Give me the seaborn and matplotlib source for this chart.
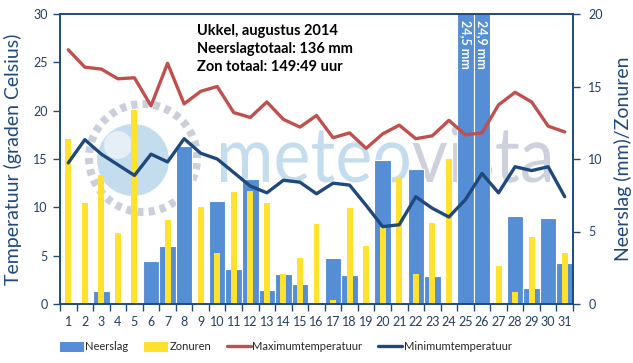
import numpy as np
import pandas as pd
import matplotlib
matplotlib.use("Agg")
import matplotlib.pyplot as plt
import seaborn as sns
from matplotlib.patches import Circle, Wedge, Patch, PathPatch
from matplotlib.lines import Line2D
from matplotlib.textpath import TextPath, text_to_path
from matplotlib.font_manager import FontProperties
from matplotlib.transforms import Affine2D

# ---------------- data ----------------
days = list(range(1, 32))
neerslag = [0.0, 0.0, 0.9, 0.0, 0.0, 3.0, 4.0, 10.9, 0.0, 7.1, 2.4, 8.6, 1.0, 2.1, 1.4, 0.0,
            3.2, 2.0, 0.0, 9.9, 0.0, 9.3, 1.9, 0.0, 24.5, 24.9, 0.0, 6.1, 1.1, 5.9, 2.8]
zonuren = [11.4, 7.0, 8.9, 4.9, 13.4, 0.0, 5.8, 0.0, 6.7, 3.5, 7.7, 7.8, 7.0, 2.1, 3.2, 5.5,
           0.3, 6.6, 4.0, 5.3, 8.7, 2.1, 5.6, 10.0, 0.0, 0.1, 2.6, 0.8, 4.6, 0.1, 3.5]
tmax = [26.3, 24.5, 24.3, 23.3, 23.4, 20.5, 24.9, 20.7, 22.0, 22.5, 19.8, 19.3, 20.9, 19.1, 18.3, 19.5,
        17.2, 17.7, 16.1, 17.6, 18.5, 17.1, 17.4, 19.0, 17.5, 17.7, 20.6, 21.9, 20.9, 18.4, 17.8]
tmin = [14.6, 17.0, 15.5, 14.4, 13.3, 15.5, 14.7, 17.1, 15.6, 15.0, 13.6, 12.2, 11.5, 12.8, 12.6, 11.4,
        12.5, 12.3, 10.2, 8.0, 8.2, 11.1, 9.9, 9.0, 10.8, 13.5, 11.5, 14.2, 13.8, 14.2, 11.1]
info_lines = ["Ukkel, augustus 2014", "Neerslagtotaal: 136 mm", "Zon totaal: 149:49 uur"]
bar_notes = {25: "24,5 mm", 26: "24,9 mm"}

df = pd.DataFrame({"dag": days, "neerslag": neerslag, "zonuren": zonuren,
                   "tmax": tmax, "tmin": tmin})
df["pos"] = np.arange(len(days))

BLUE = "#558ED5"
YELLOW = "#FFE22E"
RED = "#C0504D"
NAVY = "#1F497D"
TICKC = "#243F60"

sns.set_theme(style="white")
plt.rcParams['font.family'] = ['Lato', 'DejaVu Sans']

W, H = 633, 363
fig = plt.figure(figsize=(W / 100, H / 100), dpi=100)
fig.patch.set_facecolor("white")

ax = fig.add_axes([60 / W, 1 - 304 / H, 513 / W, 290 / H])
ax2 = ax.twinx()
ax.set_zorder(2)
ax2.set_zorder(1)
ax.patch.set_visible(False)

# ---------------- watermark ----------------
PX = Affine2D() + fig.dpi_scale_trans.inverted() + fig.dpi_scale_trans  # pixel coords

fig.add_artist(Circle((133, H - 160), 36, transform=PX, facecolor="#C4DDEE",
                      edgecolor="none", zorder=0.3))
fig.add_artist(Circle((118, H - 145), 14, transform=PX, facecolor="#E6EEF6",
                      edgecolor="none", zorder=0.31))
ndash = 30
for i in range(ndash):
    a0 = i * 360 / ndash
    fig.add_artist(Wedge((143, H - 158), 58, a0, a0 + 6.5, width=8, transform=PX,
                         facecolor="#CBCFDC", edgecolor="none", zorder=0.3))

fp = FontProperties(family="Lato")
p_full = TextPath((0, 0), "meteovista", size=100, prop=fp)
ext = p_full.get_extents()
p_x = TextPath((0, 0), "x", size=100, prop=fp).get_extents()
sx = (550 - 221) / ext.width
sy = (182 - 143) / p_x.height
w_meteo, _, _ = text_to_path.get_text_width_height_descent(
    "meteo", FontProperties(family="Lato", size=100), ismath=False)
p_meteo = TextPath((0, 0), "meteo", size=100, prop=fp)
p_vista = TextPath((w_meteo, 0), "vista", size=100, prop=fp)
tr = Affine2D().translate(-ext.x0, 0).scale(sx, sy).translate(221, H - 182) + PX
fig.add_artist(PathPatch(p_meteo, transform=tr, facecolor="#C4DDEE", edgecolor="none", zorder=0.3))
fig.add_artist(PathPatch(p_vista, transform=tr, facecolor="#CDD1DE", edgecolor="none", zorder=0.3))

# ---------------- bars (right axis) ----------------
sns.barplot(data=df, x="pos", y="neerslag", color=BLUE, saturation=1, width=1.0,
            edgecolor="white", linewidth=0.8, ax=ax2, errorbar=None)
sns.barplot(data=df, x="pos", y="zonuren", color=YELLOW, saturation=1, width=0.36,
            linewidth=0, ax=ax2, errorbar=None)
ax2.set_ylim(0, 20)

# ---------------- lines (left axis) ----------------
sns.lineplot(data=df, x="pos", y="tmax", color=RED, linewidth=2.4, ax=ax)
sns.lineplot(data=df, x="pos", y="tmin", color=NAVY, linewidth=2.4, ax=ax)
ax.set_ylim(0, 30)
ax.set_xlim(-0.5, len(days) - 0.5)

# annotations for clipped bars
for d, txt in bar_notes.items():
    ax2.text(d - 1, 19.6, txt, rotation=270, ha="center", va="top", color="white",
             fontsize=9, fontweight="bold")

# info text
for i, line in enumerate(info_lines):
    fig.text(197 / W, 1 - (31 + 18 * i) / H, line, ha="left", va="center",
             fontsize=10.5, fontweight="bold", color="black")

# ---------------- axes styling ----------------
ax.set_xticks(np.arange(len(days)))
ax.set_xticklabels([str(d) for d in days])
ax.set_xticks(np.arange(len(days) + 1) - 0.5, minor=True)
ax.tick_params(axis="x", which="major", length=0, pad=9, labelsize=9, labelcolor=TICKC)
ax.tick_params(axis="x", which="minor", length=5, width=1, color=NAVY, direction="out", bottom=True)
ax.set_yticks([0, 5, 10, 15, 20, 25, 30])
ax.tick_params(axis="y", length=5, width=1, color=NAVY, direction="out", left=True,
               labelsize=9, labelcolor=TICKC, pad=4)
ax2.set_yticks([0, 5, 10, 15, 20])
ax2.tick_params(axis="y", length=5, width=1, color=NAVY, direction="out", right=True,
                labelsize=9, labelcolor=TICKC, pad=6)
for a in (ax, ax2):
    for s in a.spines.values():
        s.set_color(NAVY)
        s.set_linewidth(1.2)
    a.grid(False)
ax.set_xlabel("")
ax2.set_xlabel("")
ax.set_ylabel("Temperatuur (graden Celsius)", fontsize=14, color=NAVY, labelpad=8)
ax2.set_ylabel("Neerslag (mm)/Zonuren", fontsize=14, color=NAVY, labelpad=8)

# legend
handles = [Patch(facecolor=BLUE, edgecolor="none"),
           Patch(facecolor=YELLOW, edgecolor="none"),
           Line2D([0], [0], color=RED, linewidth=2.4),
           Line2D([0], [0], color=NAVY, linewidth=2.4)]
labels = ["Neerslag", "Zonuren", "Maximumtemperatuur", "Minimumtemperatuur"]
fig.legend(handles, labels, loc="center left", bbox_to_anchor=(52 / W, 1 - 347 / H), ncol=4,
           frameon=False, fontsize=8.0, handlelength=2.2, handleheight=1.0, handletextpad=0.1,
           columnspacing=1.4, borderpad=0.2)

fig.savefig("out.png", dpi=100, facecolor="white")
